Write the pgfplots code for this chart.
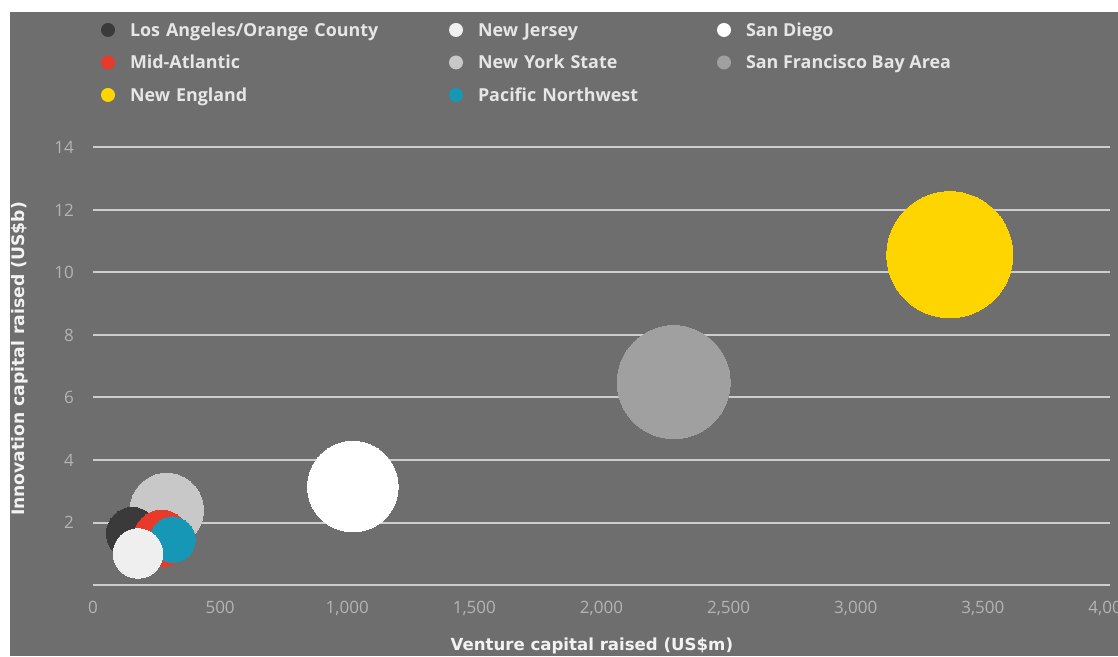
\documentclass[border=0pt]{standalone}
\usepackage{fontspec}
\setmainfont{Open Sans}
\newfontfamily\labfont{DejaVu Sans}
\usepackage{pgfplots}
\pgfplotsset{compat=1.18}
\definecolor{bg}{HTML}{6E6E6E}
\definecolor{gridc}{HTML}{CDCDCD}
\definecolor{laCol}{HTML}{3A3A3A}
\definecolor{maCol}{HTML}{E8392B}
\definecolor{neCol}{HTML}{FFD500}
\definecolor{njCol}{HTML}{EFEFEF}
\definecolor{nyCol}{HTML}{C8C8C8}
\definecolor{pnCol}{HTML}{1597B5}
\definecolor{sdCol}{HTML}{FFFFFF}
\definecolor{sfCol}{HTML}{A0A0A0}
\definecolor{legtext}{HTML}{E6E6E6}
\definecolor{tickc}{HTML}{B4B4B4}
\definecolor{labc}{HTML}{F2F2F2}
\pgfplotsset{bub/.style={legend image code/.code={\fill[#1, draw=none] (0pt,0pt) circle (7pt);\path[draw=none, fill=none] (-7pt,-7pt) rectangle (22pt,7pt);}}}
\begin{document}
\begin{tikzpicture}[x=1pt,y=1pt]
\useasboundingbox (0,0) rectangle (1118,656);
\fill[white] (0,0) rectangle (1118,656);
\fill[bg] (10,0) rectangle (1118,644);
\begin{axis}[
  at={(93pt,71pt)}, anchor=south west,
  scale only axis, width=1017pt, height=437.5pt,
  xmin=0, xmax=4000, ymin=0, ymax=14,
  clip=false,
  axis line style={draw=none},
  major tick style={draw=none},
  xtick={0,500,...,4000},
  ytick={0,2,...,14}, yticklabels={,2,4,6,8,10,12,14},
  ymajorgrids, grid style={gridc, line width=2pt},
  scaled x ticks=false,
  /pgf/number format/.cd, 1000 sep={,}, assume math mode=true, /pgfplots/.cd,
  tick label style={font=\fontsize{17}{19}\selectfont, text=tickc},
  xticklabel style={inner sep=0pt, anchor=north, yshift=-16pt},
  yticklabel style={inner sep=0pt, anchor=east, xshift=-19pt},
  ylabel={Innovation capital raised (US\$b)},
  ylabel style={at={(axis description cs:-0.0718,0.5166)}, anchor=center, inner sep=0pt, font=\labfont\bfseries\fontsize{17.2}{19}\selectfont, text=labc},
  xlabel={Venture capital raised (US\$m)},
  xlabel style={at={(axis description cs:0.4905,-0.1486)}, anchor=base, inner sep=0pt, font=\labfont\bfseries\fontsize{16.6}{18}\selectfont, text=labc},
  legend columns=3,
  legend cell align=left,
  legend style={at={(0.00787,1.2846)}, anchor=north west, draw=none, fill=none,
    inner sep=0pt, outer sep=0pt, row sep=18.5pt,
    font=\bfseries\fontsize{17.9}{19}\selectfont, text=legtext,
    nodes={inner sep=0pt, text height=12.5pt, text depth=0pt},
    /tikz/column 2/.style={nodes={text width=319pt, align=left}},
    /tikz/column 4/.style={nodes={text width=239pt, align=left}}},
]
\addlegendimage{bub=laCol}\addlegendentry{Los Angeles/Orange County}
\addlegendimage{bub=njCol}\addlegendentry{New Jersey}
\addlegendimage{bub=sdCol}\addlegendentry{San Diego}
\addlegendimage{bub=maCol}\addlegendentry{Mid-Atlantic}
\addlegendimage{bub=nyCol}\addlegendentry{New York State}
\addlegendimage{bub=sfCol}\addlegendentry{San Francisco Bay Area}
\addlegendimage{bub=neCol}\addlegendentry{New England}
\addlegendimage{bub=pnCol}\addlegendentry{Pacific Northwest}
% bubbles (x: venture capital US$m, y: innovation capital US$b)
\addplot[forget plot, only marks, mark=*, mark size=63pt, color=neCol, mark options={fill=neCol, draw=neCol, line width=0pt}] coordinates {(3370,10.57)};
\addplot[forget plot, only marks, mark=*, mark size=56.5pt, color=sfCol, mark options={fill=sfCol, draw=sfCol, line width=0pt}] coordinates {(2284,6.49)};
\addplot[forget plot, only marks, mark=*, mark size=45.3pt, color=sdCol, mark options={fill=sdCol, draw=sdCol, line width=0pt}] coordinates {(1022,3.15)};
\addplot[forget plot, only marks, mark=*, mark size=36.7pt, color=nyCol, mark options={fill=nyCol, draw=nyCol, line width=0pt}] coordinates {(290,2.40)};
\addplot[forget plot, only marks, mark=*, mark size=26pt, color=laCol, mark options={fill=laCol, draw=laCol, line width=0pt}] coordinates {(155,1.65)};
\addplot[forget plot, only marks, mark=*, mark size=28.3pt, color=maCol, mark options={fill=maCol, draw=maCol, line width=0pt}] coordinates {(270,1.49)};
\addplot[forget plot, only marks, mark=*, mark size=22.7pt, color=pnCol, mark options={fill=pnCol, draw=pnCol, line width=0pt}] coordinates {(313,1.45)};
\addplot[forget plot, only marks, mark=*, mark size=24.8pt, color=njCol, mark options={fill=njCol, draw=njCol, line width=0pt}] coordinates {(177,1.01)};
\end{axis}
\end{tikzpicture}
\end{document}
